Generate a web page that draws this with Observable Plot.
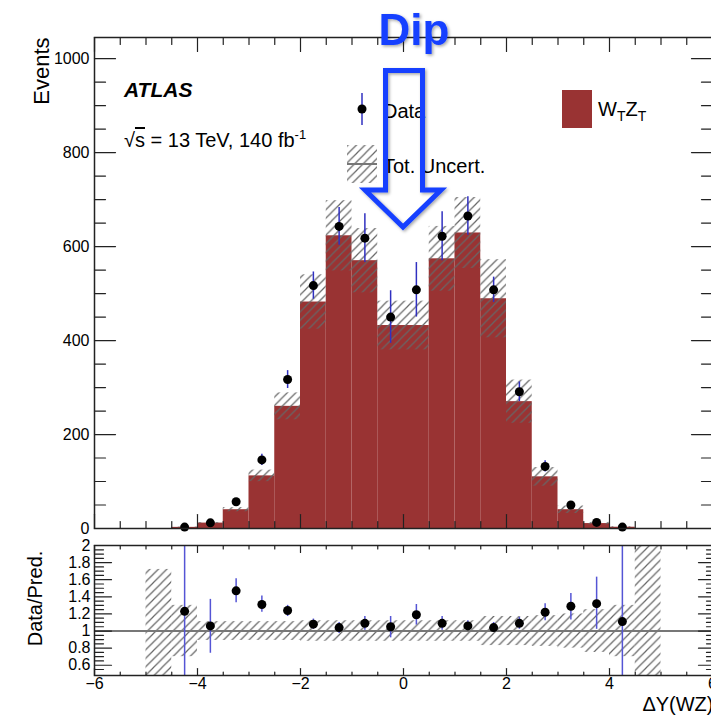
<!DOCTYPE html>
<html>
<head>
<meta charset="utf-8">
<script src="https://cdn.jsdelivr.net/npm/d3@7"></script>
<script src="https://cdn.jsdelivr.net/npm/@observablehq/plot@0.6"></script>
<style>
  html, body { margin: 0; padding: 0; background: #fff; }
  #wrap { position: relative; width: 711px; height: 722px; overflow: hidden; font-family: "Liberation Sans", Arial, sans-serif; }
  #wrap svg { max-width: none !important; display: block; overflow: visible; }
  #overlay { position: absolute; left: 0; top: 0; pointer-events: none; }
</style>
</head>
<body>
<svg width="0" height="0" style="position:absolute">
  <defs>
    <pattern id="hatch" patternUnits="userSpaceOnUse" width="8.5" height="8.5">
      <path d="M0,8.5 L8.5,0 M-2.125,2.125 L2.125,-2.125 M6.375,10.625 L10.625,6.375" stroke="#666" stroke-width="1.2"/>
    </pattern>
    <filter id="shadow" x="-20%" y="-20%" width="140%" height="140%">
      <feDropShadow dx="1.5" dy="1.5" stdDeviation="1.5" flood-color="#000" flood-opacity="0.35"/>
    </filter>
  </defs>
</svg>
<div id="wrap">
  <div id="charts"></div>
  <svg id="overlay" width="711" height="722" font-family="Liberation Sans, Arial, sans-serif">
    <text x="124" y="97" font-size="21" font-weight="bold" font-style="italic">ATLAS</text>
    <text x="124" y="147" font-size="20">√<tspan text-decoration="overline">s</tspan> = 13 TeV, 140 fb<tspan dy="-8" font-size="13">-1</tspan></text>
    <line x1="362" x2="362" y1="93" y2="125" stroke="#3030c0" stroke-width="1.5"/>
    <circle cx="362" cy="109" r="4.5" fill="#000"/>
    <text x="383" y="118" font-size="20">Data</text>
    <rect x="347" y="145" width="30" height="38" fill="url(#hatch)"/>
    <line x1="347" x2="377" y1="164" y2="164" stroke="#777" stroke-width="2"/>
    <text x="383" y="173" font-size="20">Tot. Uncert.</text>
    <rect x="562" y="90" width="30" height="38" fill="#993333"/>
    <text x="598" y="116" font-size="20">W<tspan dy="5" font-size="14">T</tspan><tspan dy="-5">Z</tspan><tspan dy="5" font-size="14">T</tspan></text>
    <g filter="url(#shadow)">
      <text x="414" y="45" font-size="44" font-weight="bold" fill="#1540ff" text-anchor="middle">Dip</text>
      <path d="M385.5,70.5 L422.5,70.5 L422.5,190 L441,190 L403,227 L365,190 L385.5,190 Z" fill="none" stroke="#1540ff" stroke-width="5" stroke-linejoin="miter"/>
    </g>
  </svg>
</div>
<script>
// ---- data ----
const binEdges = [-5, -4.5, -4, -3.5, -3, -2.5, -2, -1.5, -1, -0.5, 0, 0.5, 1, 1.5, 2, 2.5, 3, 3.5, 4, 4.5, 5];
const predWTZT = [0, 2.4, 11.5, 40, 112, 260, 482, 623, 570, 432, 432, 574, 629, 489, 270, 110, 40, 10.5, 2.7, 0];
const totUncRel = [0.72, 0.30, 0.11, 0.11, 0.11, 0.11, 0.12, 0.12, 0.12, 0.12, 0.12, 0.12, 0.12, 0.17, 0.17, 0.18, 0.20, 0.25, 0.30, 1.0];

const dataX = [-4.25, -3.75, -3.25, -2.75, -2.25, -1.75, -1.25, -0.75, -0.25, 0.25, 0.75, 1.25, 1.75, 2.25, 2.75, 3.25, 3.75, 4.25];
const dataEvents = [3, 12, 57, 146, 317, 517, 643, 618, 450, 508, 622, 665, 508, 291, 132, 50, 13, 3];
const dataErr = [3, 4, 6, 12, 19, 29, 40, 52, 56, 58, 52, 41, 27, 21, 12, 5, 4, 3];

const ratioY  = [1.23, 1.06, 1.47, 1.31, 1.24, 1.08, 1.04, 1.09, 1.05, 1.19, 1.09, 1.06, 1.04, 1.09, 1.22, 1.29, 1.32, 1.11];
const ratioLo = [0, 0.74, 1.33, 1.22, 1.17, 1.02, 0.97, 1.01, 0.92, 1.07, 1.01, 1.01, 0.99, 1.02, 1.12, 1.13, 1.02, 0];
const ratioHi = [3, 1.37, 1.61, 1.41, 1.30, 1.14, 1.10, 1.17, 1.17, 1.31, 1.17, 1.12, 1.10, 1.16, 1.32, 1.44, 1.63, 3];

const xTickLabels = [-6, -4, -2, 0, 2, 4, 6];
const yTickLabelsMain = [0, 200, 400, 600, 800, 1000];
const yTickLabelsRatio = [0.6, 0.8, 1, 1.2, 1.4, 1.6, 1.8, 2];

// ---- tables ----
const bins = predWTZT.map((p, i) => ({lo: binEdges[i], hi: binEdges[i + 1], pred: p, rel: totUncRel[i]}));
const pts = dataX.map((x, i) => ({x, y: dataEvents[i], err: dataErr[i]}));
const rpts = dataX.map((x, i) => ({x, y: ratioY[i], lo: ratioLo[i], hi: ratioHi[i]}));

const xMinor = d3.range(-6, 6.01, 0.5).filter(v => !xTickLabels.includes(v));
const yMinorMain = d3.range(0, 1045, 50).filter(v => !yTickLabelsMain.includes(v));
const yMinorRatio = d3.range(0.5, 2.0, 0.05).map(v => +v.toFixed(2)).filter(v => !yTickLabelsRatio.includes(v) && v > 0.5);

const tickShape = {draw(ctx, l) { ctx.moveTo(0, 0); ctx.lineTo(0, -l); }};
const tk = (data, acc, len, rot) => Plot.vector(data, {...acc, length: len, rotate: rot, anchor: "start", shape: tickShape, stroke: "#222", strokeWidth: 1.2});

const FONT = "Liberation Sans, Arial, sans-serif";
const RED = "#993333";
const BLUE = "#3030c0";
const BLUE2 = "#5555d5";

const yMaxMain = 1045;
const main = Plot.plot({
  width: 714, height: 532,
  marginLeft: 94, marginRight: 2, marginTop: 37, marginBottom: 4,
  x: {domain: [-6, 6], axis: null},
  y: {domain: [0, yMaxMain]},
  style: {fontFamily: FONT, fontSize: "16px", background: "transparent", maxWidth: "none", overflow: "visible"},
  marks: [
    Plot.rectY(bins.filter(d => d.pred > 0), {x1: "lo", x2: "hi", y: "pred", fill: RED}),
    Plot.rect(bins.filter(d => d.pred > 0), {x1: "lo", x2: "hi", y1: d => d.pred * (1 - d.rel), y2: d => d.pred * (1 + d.rel), fill: "url(#hatch)"}),
    Plot.ruleX(pts, {x: "x", y1: d => Math.max(0, d.y - d.err), y2: d => d.y + d.err, stroke: BLUE, strokeWidth: 1.5}),
    Plot.dot(pts, {x: "x", y: "y", r: 4.5, fill: "#000"}),
    Plot.frame({stroke: "#222", strokeWidth: 1.5}),
    tk(yTickLabelsMain, {x: () => -6, y: d => d}, 21, 90),
    tk(yMinorMain, {x: () => -6, y: d => d}, 11, 90),
    tk(yTickLabelsMain, {x: () => 6, y: d => d}, 21, -90),
    tk(yMinorMain, {x: () => 6, y: d => d}, 11, -90),
    tk(xTickLabels, {x: d => d, y: () => 0}, 14, 0),
    tk(xMinor, {x: d => d, y: () => 0}, 7, 0),
    tk(xTickLabels, {x: d => d, y: () => yMaxMain}, 14, 180),
    tk(xMinor, {x: d => d, y: () => yMaxMain}, 7, 180),
    Plot.axisY(yTickLabelsMain, {anchor: "left", tickSize: 0, tickPadding: 5, tickFormat: d => String(d), fontSize: 16, label: null}),
    Plot.text(["Events"], {frameAnchor: "top-left", rotate: -90, textAnchor: "end", dx: -61, fontSize: 22})
  ]
});

const rMin = 0.48, rMax = 2.0;
const ratio = Plot.plot({
  width: 714, height: 190,
  marginLeft: 94, marginRight: 2, marginTop: 13, marginBottom: 47,
  x: {domain: [-6, 6]},
  y: {domain: [rMin, rMax], clamp: true},
  style: {fontFamily: FONT, fontSize: "16px", background: "transparent", maxWidth: "none", overflow: "visible"},
  marks: [
    Plot.rect(bins, {x1: "lo", x2: "hi", y1: d => 1 - d.rel, y2: d => 1 + d.rel, fill: "url(#hatch)"}),
    Plot.ruleY([1], {stroke: "#777", strokeWidth: 2}),
    Plot.ruleX(rpts, {x: "x", y1: "lo", y2: "hi", stroke: BLUE2, strokeWidth: 1.5}),
    Plot.dot(rpts, {x: "x", y: "y", r: 4.5, fill: "#000"}),
    Plot.frame({stroke: "#222", strokeWidth: 1.5}),
    tk(yTickLabelsRatio, {x: () => -6, y: d => d}, 17, 90),
    tk(yMinorRatio, {x: () => -6, y: d => d}, 9, 90),
    tk(yTickLabelsRatio, {x: () => 6, y: d => d}, 14, -90),
    tk(yMinorRatio, {x: () => 6, y: d => d}, 6, -90),
    tk(xTickLabels, {x: d => d, y: () => rMin}, 7, 0),
    tk(xMinor, {x: d => d, y: () => rMin}, 3.5, 0),
    tk(xTickLabels, {x: d => d, y: () => rMax}, 7, 180),
    tk(xMinor, {x: d => d, y: () => rMax}, 3.5, 180),
    Plot.axisY(yTickLabelsRatio, {anchor: "left", tickSize: 0, tickPadding: 4, tickFormat: d => String(d), fontSize: 16, label: null}),
    Plot.axisX(xTickLabels, {anchor: "bottom", tickSize: 0, tickPadding: 2, tickFormat: d => d < 0 ? "\u2212" + (-d) : String(d), fontSize: 16, label: null}),
    Plot.text(["ΔY(WZ)"], {frameAnchor: "bottom-right", textAnchor: "end", dx: 1, dy: 35, fontSize: 20}),
    Plot.text(["Data/Pred."], {frameAnchor: "left", rotate: -90, textAnchor: "middle", dx: -59, dy: -12, fontSize: 20})
  ]
});

const charts = document.getElementById("charts");
charts.appendChild(main);
charts.appendChild(ratio);
</script>
</body>
</html>
